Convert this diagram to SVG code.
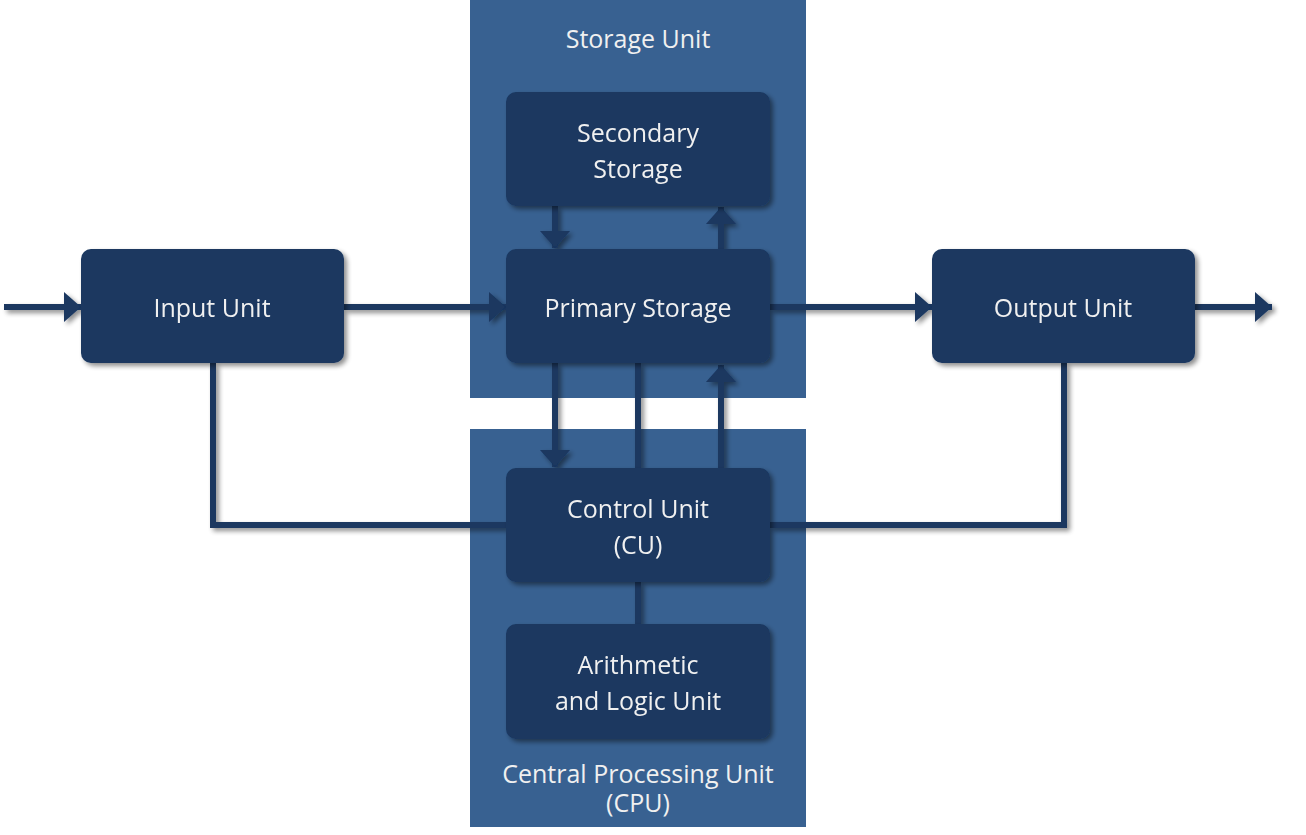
<svg xmlns="http://www.w3.org/2000/svg" width="1306" height="835" viewBox="0 0 1306 835">
<defs>
<filter id="sh" x="-20%" y="-20%" width="150%" height="150%">
<feGaussianBlur in="SourceAlpha" stdDeviation="2.5"/>
<feOffset dx="3" dy="3" result="b"/>
<feComponentTransfer><feFuncA type="linear" slope="0.45"/></feComponentTransfer>
<feMerge><feMergeNode/><feMergeNode in="SourceGraphic"/></feMerge>
</filter>
<marker id="ah" markerUnits="userSpaceOnUse" markerWidth="18" markerHeight="30" refX="17" refY="15" orient="auto" viewBox="0 0 18 30">
<path d="M0,0 L17,15 L0,30 Z" fill="#1a3760"/>
</marker>
<style>
.panel{fill:#386191}
.node{fill:#1a3760}
.t{font-family:"Open Sans","Noto Sans","DejaVu Sans",sans-serif;font-size:25px;fill:#f0f0f0;text-anchor:middle}
.c{fill:none;stroke:#1a3760;stroke-width:6}
</style>
</defs>
<rect width="1306" height="835" fill="#ffffff"/>
<g id="storage-panel">
<rect class="panel" x="470" y="0" width="336" height="398"/>
<text class="t" x="638" y="48">Storage Unit</text>
</g>
<g id="cpu-panel">
<rect class="panel" x="470" y="429" width="336" height="398"/>
<text class="t" x="638" y="783">Central Processing Unit</text>
<text class="t" x="638" y="812">(CPU)</text>
</g>
<g id="connectors" filter="url(#sh)">
<path class="c" d="M4,307 H81" marker-end="url(#ah)"/>
<path class="c" d="M344,307 H506" marker-end="url(#ah)"/>
<path class="c" d="M770,307 H932" marker-end="url(#ah)"/>
<path class="c" d="M1195,307 H1272" marker-end="url(#ah)"/>
<path class="c" d="M555,206 V248" marker-end="url(#ah)"/>
<path class="c" d="M721,249 V207" marker-end="url(#ah)"/>
<path class="c" d="M555,363 V467" marker-end="url(#ah)"/>
<path class="c" d="M638,363 V468"/>
<path class="c" d="M721,468 V365" marker-end="url(#ah)"/>
<path class="c" d="M213,363 V525 H506"/>
<path class="c" d="M1064,363 V525 H770"/>
<path class="c" d="M638,582 V624"/>
</g>
<g id="secondary-storage" filter="url(#sh)">
<rect class="node" x="506" y="92" width="264" height="114" rx="10"/>
<text class="t" x="638" y="142">Secondary</text>
<text class="t" x="638" y="178">Storage</text>
</g>
<g id="primary-storage" filter="url(#sh)">
<rect class="node" x="506" y="249" width="264" height="114" rx="10"/>
<text class="t" x="638" y="317">Primary Storage</text>
</g>
<g id="input-unit" filter="url(#sh)">
<rect class="node" x="81" y="249" width="263" height="114" rx="10"/>
<text class="t" x="212" y="317">Input Unit</text>
</g>
<g id="output-unit" filter="url(#sh)">
<rect class="node" x="932" y="249" width="263" height="114" rx="10"/>
<text class="t" x="1063" y="317">Output Unit</text>
</g>
<g id="control-unit" filter="url(#sh)">
<rect class="node" x="506" y="468" width="264" height="114" rx="10"/>
<text class="t" x="638" y="518">Control Unit</text>
<text class="t" x="638" y="554">(CU)</text>
</g>
<g id="alu" filter="url(#sh)">
<rect class="node" x="506" y="624" width="264" height="115" rx="10"/>
<text class="t" x="638" y="674">Arithmetic</text>
<text class="t" x="638" y="710">and Logic Unit</text>
</g>
</svg>
